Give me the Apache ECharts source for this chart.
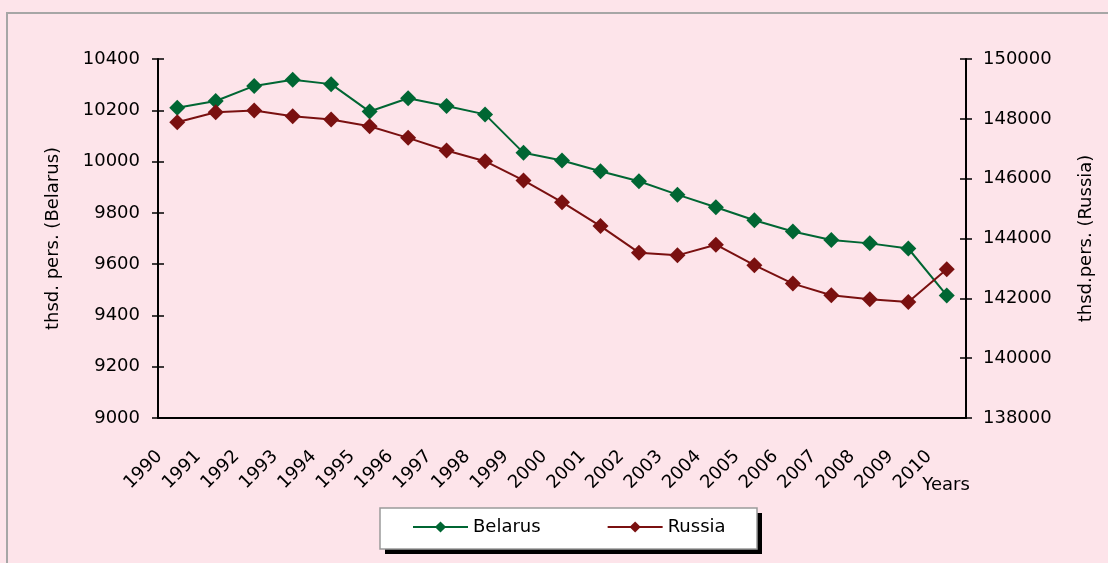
<!DOCTYPE html>
<html>
<head>
<meta charset="utf-8">
<script src="https://cdn.jsdelivr.net/npm/echarts@6/dist/echarts.min.js"></script>
<style>
  html, body { margin: 0; padding: 0; background: #fde4ea; }
  #chart { width: 1108px; height: 563px; }
</style>
</head>
<body>
<div id="chart"></div>
<script>
// years on the category axis
var years = ['1990', '1991', '1992', '1993', '1994', '1995', '1996', '1997', '1998', '1999', '2000',
  '2001', '2002', '2003', '2004', '2005', '2006', '2007', '2008', '2009', '2010'];
// thsd. pers.
var belarus = [10210, 10236, 10295, 10319, 10302, 10195, 10247, 10217, 10184, 10034, 10004,
  9962, 9923, 9871, 9822, 9771, 9727, 9694, 9681, 9661, 9478];
var russia = [147885, 148218, 148275, 148085, 147975, 147750, 147364, 146940, 146583, 145940, 145215,
  144415, 143527, 143437, 143794, 143110, 142492, 142102, 141968, 141878, 142970];

var FONT = 'DejaVu Sans';
var chart = echarts.init(document.getElementById('chart'));

var axisLine = { lineStyle: { color: '#000', width: 2 } };
var plain = function (v) { return String(v); };   // no thousand separators

chart.setOption({
  backgroundColor: '#fde4ea',
  textStyle: { fontFamily: FONT, color: '#000' },
  animation: false,
  graphic: [{
    // outer frame of the chart area
    type: 'rect',
    shape: { x: 7, y: 13, width: 1200, height: 700 },
    style: { fill: 'none', stroke: '#a6a6a6', lineWidth: 2 },
    silent: true
  }, {
    // legend box shadow
    type: 'rect',
    shape: { x: 385, y: 513, width: 377, height: 41 },
    style: { fill: '#000' },
    silent: true
  }, {
    // legend box
    type: 'rect',
    shape: { x: 380, y: 508, width: 377, height: 41 },
    style: { fill: '#fff', stroke: '#9a9a9a', lineWidth: 1.5 },
    silent: true
  }],
  grid: { left: 158, right: 142, top: 59, bottom: 145 },
  legend: {
    left: 412,
    top: 518,
    data: ['Belarus', 'Russia'],
    itemWidth: 55,
    itemHeight: 14,
    itemGap: 66,
    padding: 0,
    textStyle: { fontFamily: FONT, fontSize: 18, color: '#000' }
  },
  xAxis: [{
    type: 'category',
    data: years,
    name: 'Years',
    nameLocation: 'end',
    nameGap: -46,
    nameTextStyle: { fontFamily: FONT, fontSize: 18, align: 'left', verticalAlign: 'top', padding: [58, 0, 0, 0] },
    axisLine: axisLine,
    axisTick: { length: 5, lineStyle: { color: '#000', width: 1.5 } },
    axisLabel: { rotate: 45, margin: 18, padding: [0, 25, 0, 0], fontSize: 18, color: '#000', interval: 0 },
    splitLine: { show: false }
  }, {
    // second copy only to draw the inner half of the crossing ticks
    type: 'category',
    data: years,
    position: 'bottom',
    axisLine: { show: false },
    axisTick: { inside: true, length: 5, lineStyle: { color: '#000', width: 1.5 } },
    axisLabel: { show: false },
    splitLine: { show: false }
  }],
  yAxis: [{
    type: 'value',
    min: 9000,
    max: 10400,
    interval: 200,
    position: 'left',
    name: 'thsd. pers. (Belarus)',
    nameLocation: 'middle',
    nameGap: 96,
    nameTextStyle: { fontFamily: FONT, fontSize: 18 },
    axisLine: Object.assign({ show: true }, axisLine),
    axisTick: { show: true, length: 6, lineStyle: { color: '#000', width: 1.5 } },
    axisLabel: { margin: 18, fontSize: 18, color: '#000', formatter: plain },
    splitLine: { show: false }
  }, {
    type: 'value',
    min: 138000,
    max: 150000,
    interval: 2000,
    position: 'right',
    name: 'thsd.pers. (Russia)',
    nameLocation: 'middle',
    nameGap: 111,
    nameRotate: 90,
    nameTextStyle: { fontFamily: FONT, fontSize: 18 },
    axisLine: Object.assign({ show: true }, axisLine),
    axisTick: { show: true, length: 6, lineStyle: { color: '#000', width: 1.5 } },
    axisLabel: { margin: 17, fontSize: 18, color: '#000', formatter: plain },
    splitLine: { show: false }
  }, {
    type: 'value', min: 9000, max: 10400, interval: 200, position: 'left',
    axisLine: { show: false },
    axisTick: { show: true, inside: true, length: 6, lineStyle: { color: '#000', width: 1.5 } },
    axisLabel: { show: false }, splitLine: { show: false }
  }, {
    type: 'value', min: 138000, max: 150000, interval: 2000, position: 'right',
    axisLine: { show: false },
    axisTick: { show: true, inside: true, length: 6, lineStyle: { color: '#000', width: 1.5 } },
    axisLabel: { show: false }, splitLine: { show: false }
  }],
  series: [{
    name: 'Belarus',
    type: 'line',
    yAxisIndex: 0,
    data: belarus,
    symbol: 'diamond',
    symbolSize: 16,
    itemStyle: { color: '#006633' },
    lineStyle: { color: '#006633', width: 2 }
  }, {
    name: 'Russia',
    type: 'line',
    yAxisIndex: 1,
    data: russia,
    symbol: 'diamond',
    symbolSize: 16,
    itemStyle: { color: '#7a1010' },
    lineStyle: { color: '#7a1010', width: 2 }
  }]
});
</script>
</body>
</html>
